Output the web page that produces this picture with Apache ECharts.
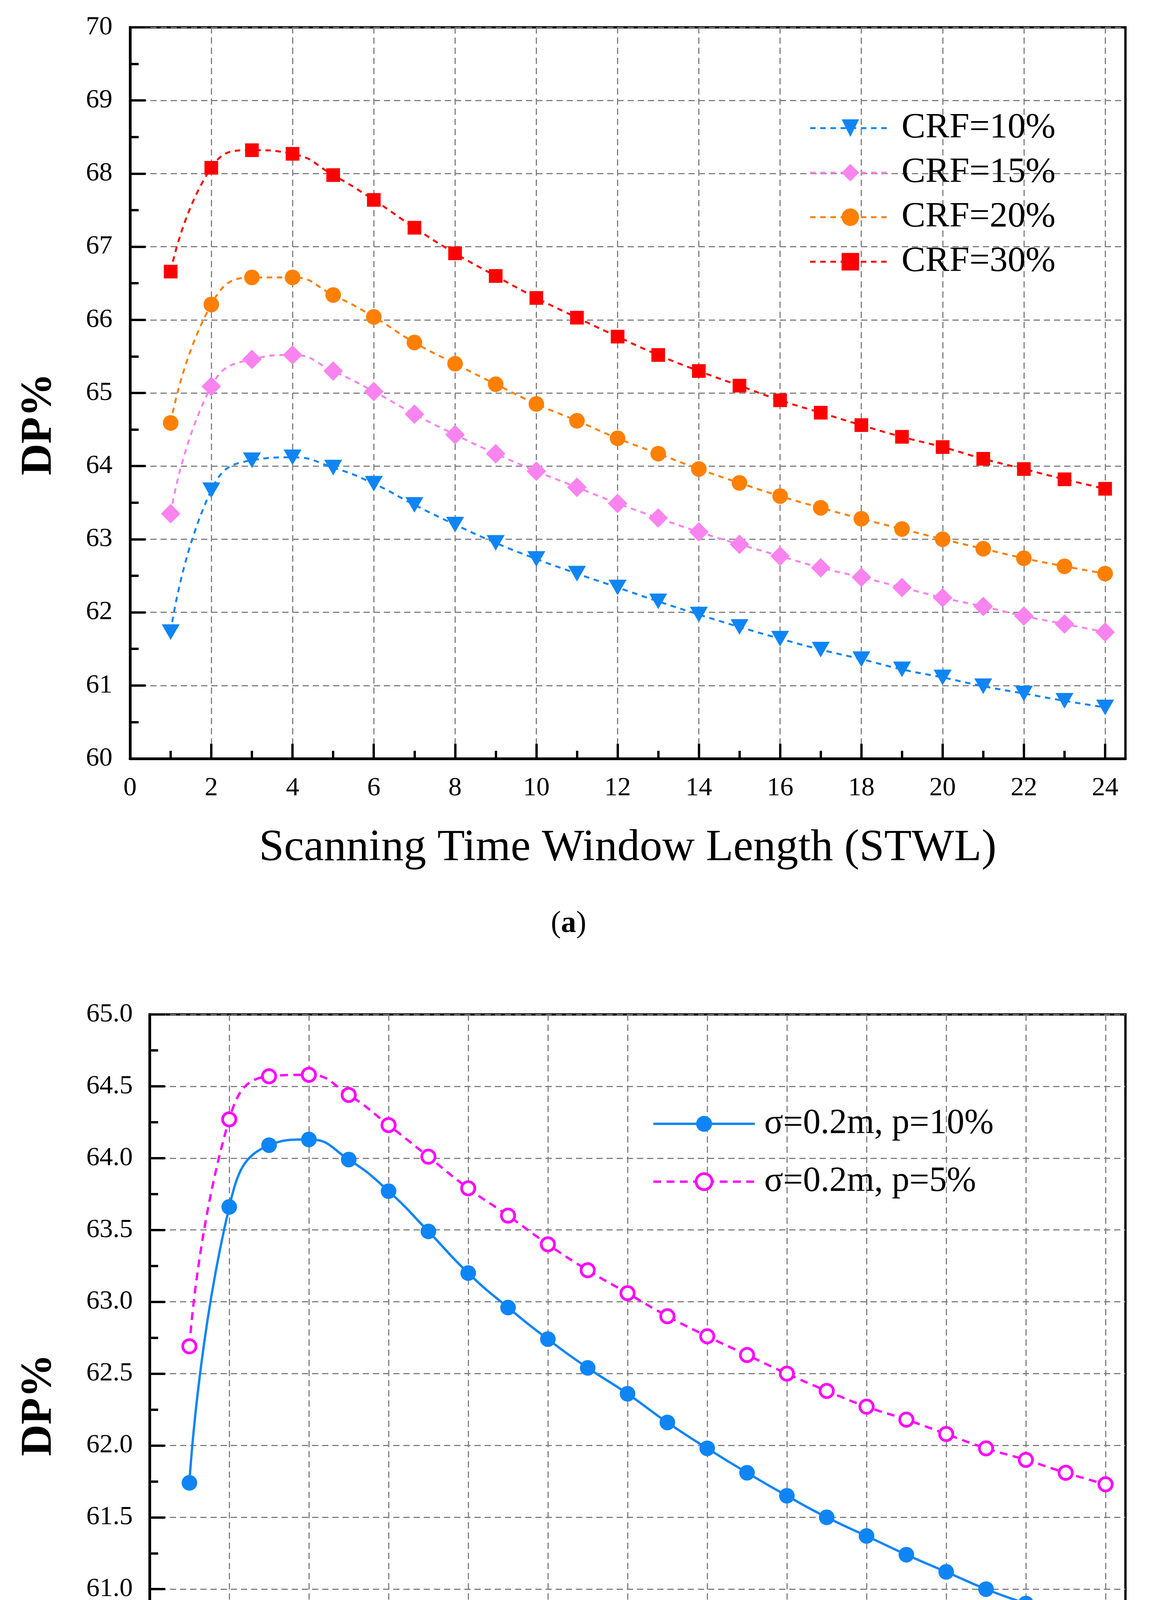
<!DOCTYPE html>
<html>
<head>
<meta charset="utf-8">
<title>DP% vs STWL</title>
<script src="https://cdn.jsdelivr.net/npm/echarts@6/dist/echarts.min.js"></script>
<style>
  html, body { margin: 0; padding: 0; background: #fff; }
  #chart { width: 2950px; height: 4934px; }
</style>
</head>
<body>
<div id="chart"></div>
<script>
// x values (Scanning Time Window Length)
const stwl = [1, 2, 3, 4, 5, 6, 7, 8, 9, 10, 11, 12, 13, 14, 15, 16, 17, 18, 19, 20, 21, 22, 23, 24];
const xMajor = [0, 2, 4, 6, 8, 10, 12, 14, 16, 18, 20, 22, 24];
const xMinor = [1, 3, 5, 7, 9, 11, 13, 15, 17, 19, 21, 23];

// (a) DP% for different CRF
const crf10 = [61.73, 63.67, 64.08, 64.12, 63.98, 63.76, 63.47, 63.20, 62.95, 62.73, 62.53, 62.34, 62.15, 61.97, 61.80, 61.64, 61.49, 61.36, 61.22, 61.11, 60.99, 60.89, 60.79, 60.70];
const crf15 = [63.35, 65.09, 65.46, 65.52, 65.30, 65.02, 64.71, 64.43, 64.17, 63.93, 63.71, 63.49, 63.29, 63.10, 62.93, 62.77, 62.61, 62.48, 62.34, 62.20, 62.08, 61.95, 61.84, 61.73];
const crf20 = [64.59, 66.21, 66.58, 66.58, 66.34, 66.04, 65.69, 65.40, 65.12, 64.85, 64.62, 64.38, 64.17, 63.96, 63.77, 63.59, 63.43, 63.28, 63.14, 63.00, 62.87, 62.74, 62.63, 62.53];
const crf30 = [66.66, 68.08, 68.32, 68.27, 67.98, 67.64, 67.26, 66.91, 66.60, 66.30, 66.03, 65.77, 65.52, 65.30, 65.10, 64.90, 64.73, 64.56, 64.40, 64.26, 64.10, 63.96, 63.82, 63.69];

// (b) DP% for sigma = 0.2m
const p10 = [61.74, 63.66, 64.09, 64.13, 63.99, 63.77, 63.49, 63.20, 62.96, 62.74, 62.54, 62.36, 62.16, 61.98, 61.81, 61.65, 61.50, 61.37, 61.24, 61.12, 61.00, 60.90, 60.81, 60.71];
const p5 = [62.69, 64.27, 64.57, 64.58, 64.44, 64.23, 64.01, 63.79, 63.60, 63.40, 63.22, 63.06, 62.90, 62.76, 62.63, 62.50, 62.38, 62.27, 62.18, 62.08, 61.98, 61.90, 61.81, 61.73];

const FONT = '"Liberation Serif", "Times New Roman", serif';
const gridDash = { color: '#808080', width: 3, type: [16, 10] };

function pairs(vals) {
  return stwl.map(function (x, i) { return [x, vals[i]]; });
}

// major + minor x axis for one grid
function xAxes(gridIndex, labelMargin, nameGap) {
  return [{
    gridIndex: gridIndex,
    type: 'value',
    position: 'bottom',
    min: 0,
    max: 24.5,
    interval: 2,
    name: 'Scanning Time Window Length (STWL)',
    nameLocation: 'middle',
    nameGap: nameGap,
    nameTextStyle: { fontFamily: FONT, fontSize: 115, color: '#000' },
    axisLine: { show: true, lineStyle: { color: '#000', width: 7 } },
    axisTick: { show: true, inside: true, length: 38, customValues: xMajor, lineStyle: { color: '#000', width: 6 } },
    axisLabel: { show: true, customValues: xMajor, margin: labelMargin, fontFamily: FONT, fontSize: 68, color: '#000' },
    splitLine: { show: true, lineStyle: gridDash }
  }, {
    gridIndex: gridIndex,
    type: 'value',
    position: 'bottom',
    min: 0,
    max: 24.5,
    interval: 1,
    axisLine: { show: false },
    axisTick: { show: true, inside: true, length: 20, customValues: xMinor, lineStyle: { color: '#000', width: 6 } },
    axisLabel: { show: false },
    splitLine: { show: false }
  }];
}

function yAxis(gridIndex, min, max, interval, digits, margin) {
  return {
    gridIndex: gridIndex,
    type: 'value',
    min: min,
    max: max,
    interval: interval,
    axisLine: { show: true, lineStyle: { color: '#000', width: 7 } },
    axisTick: { show: true, inside: true, length: 40, lineStyle: { color: '#000', width: 6 } },
    minorTick: { show: true, splitNumber: 2, length: 22, lineStyle: { color: '#000', width: 6 } },
    axisLabel: {
      margin: margin, fontFamily: FONT, fontSize: 68, color: '#000',
      formatter: function (v) { return v.toFixed(digits); }
    },
    splitLine: { show: true, lineStyle: gridDash }
  };
}

function dashedSeries(name, vals, color, symbol, size, rotate) {
  return {
    name: name,
    type: 'line',
    xAxisIndex: 0,
    yAxisIndex: 0,
    data: pairs(vals),
    smooth: 0.5,
    symbol: symbol,
    symbolSize: size,
    symbolRotate: rotate || 0,
    itemStyle: { color: color },
    lineStyle: { color: color, width: 5, type: [14, 12] },
    z: 3
  };
}

const chart = echarts.init(document.getElementById('chart'), null, { renderer: 'canvas' });

const option = {
  animation: false,
  backgroundColor: '#fff',
  grid: [
    { left: 333, top: 70, width: 2549, height: 1872, show: true, borderColor: '#000', borderWidth: 6, backgroundColor: 'transparent' },
    { left: 383, top: 2597, width: 2499, height: 1839, show: true, borderColor: '#000', borderWidth: 6, backgroundColor: 'transparent' }
  ],
  xAxis: xAxes(0, 42, 172).concat(xAxes(1, 38, 172)),
  yAxis: [
    yAxis(0, 60, 70, 1, 0, 45),
    yAxis(1, 60, 65, 0.5, 1, 43)
  ],
  legend: [{
    orient: 'vertical',
    left: 2072,
    top: 282,
    padding: 0,
    itemWidth: 206,
    itemHeight: 56,
    itemGap: 22,
    lineStyle: { width: 'inherit', type: 'inherit' },
    itemStyle: { borderWidth: 'inherit' },
    textStyle: { fontFamily: FONT, fontSize: 92, lineHeight: 92, color: '#000', padding: [0, 0, 0, 23] },
    data: ['CRF=10%', 'CRF=15%', 'CRF=20%', 'CRF=30%']
  }, {
    orient: 'vertical',
    left: 1670,
    top: 2832,
    padding: 0,
    itemWidth: 260,
    itemHeight: 51,
    itemGap: 58,
    lineStyle: { width: 'inherit', type: 'inherit' },
    itemStyle: { borderWidth: 'inherit' },
    textStyle: { fontFamily: FONT, fontSize: 90, lineHeight: 90, color: '#000', padding: [0, 0, 0, 19] },
    data: ['σ=0.2m, p=10%', 'σ=0.2m, p=5%']
  }],
  graphic: [
    { type: 'text', x: 101, y: 1086, rotation: Math.PI / 2,
      style: { text: 'DP%', fontFamily: FONT, fontSize: 112, fontWeight: 'bold', fill: '#000', align: 'center', verticalAlign: 'middle' } },
    { type: 'text', x: 101, y: 3597, rotation: Math.PI / 2,
      style: { text: 'DP%', fontFamily: FONT, fontSize: 112, fontWeight: 'bold', fill: '#000', align: 'center', verticalAlign: 'middle' } },
    { type: 'text', x: 1456, y: 2366,
      style: { text: '{r|(}{b|a}{r|)}', align: 'center', verticalAlign: 'middle',
        rich: { r: { fontFamily: FONT, fontSize: 78, fill: '#000' }, b: { fontFamily: FONT, fontSize: 78, fontWeight: 'bold', fill: '#000' } } } },
    { type: 'text', x: 1456, y: 4856,
      style: { text: '{r|(}{b|b}{r|)}', align: 'center', verticalAlign: 'middle',
        rich: { r: { fontFamily: FONT, fontSize: 78, fill: '#000' }, b: { fontFamily: FONT, fontSize: 78, fontWeight: 'bold', fill: '#000' } } } }
  ],
  series: [
    dashedSeries('CRF=10%', crf10, '#0F85F5', 'triangle', [46, 40], 180),
    dashedSeries('CRF=15%', crf15, '#F984EF', 'diamond', [50, 50]),
    dashedSeries('CRF=20%', crf20, '#FF8000', 'circle', 40),
    dashedSeries('CRF=30%', crf30, '#FF0000', 'rect', 35),
    {
      name: 'σ=0.2m, p=10%',
      type: 'line',
      xAxisIndex: 2,
      yAxisIndex: 1,
      data: pairs(p10),
      smooth: 0.5,
      symbol: 'circle',
      symbolSize: 40,
      itemStyle: { color: '#0F85F5' },
      lineStyle: { color: '#0F85F5', width: 6, type: 'solid' },
      z: 3
    },
    {
      name: 'σ=0.2m, p=5%',
      type: 'line',
      xAxisIndex: 2,
      yAxisIndex: 1,
      data: pairs(p5),
      smooth: 0.5,
      symbol: 'circle',
      symbolSize: 34,
      itemStyle: { color: '#fff', borderColor: '#FF00FF', borderWidth: 7 },
      lineStyle: { color: '#FF00FF', width: 6, type: [20, 14] },
      z: 3
    }
  ]
};

chart.setOption(option);
</script>
</body>
</html>
